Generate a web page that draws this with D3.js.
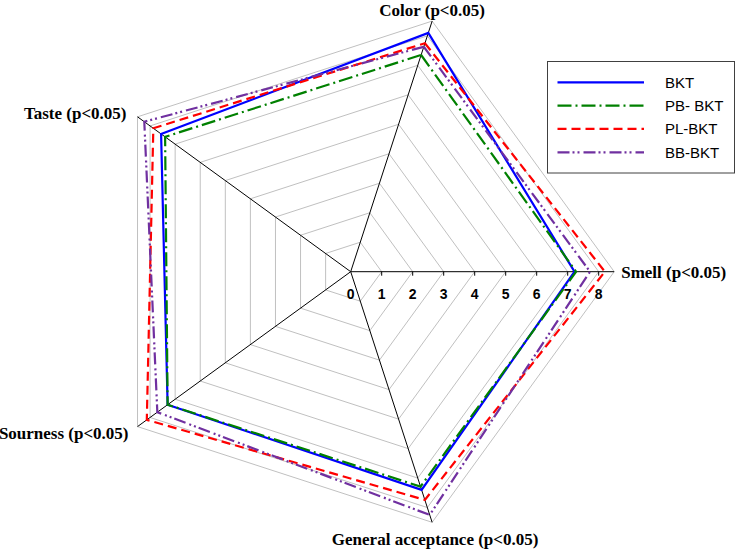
<!DOCTYPE html>
<html>
<head>
<meta charset="utf-8">
<script src="https://cdn.jsdelivr.net/npm/d3@7"></script>
<style>
  body { margin: 0; background: #fff; }
  svg { display: block; }
</style>
</head>
<body>
<div id="chart"></div>
<script>
// axes, clockwise starting at the upper-right one
const axes = ["Color (p<0.05)", "Smell (p<0.05)", "General acceptance (p<0.05)", "Sourness (p<0.05)", "Taste (p<0.05)"];
const seriesNames = ["BKT", "PB- BKT", "PL-BKT", "BB-BKT"];
const bkt = [8.1, 7.22, 7.4, 7.3, 7.56];
const pbBkt = [7.35, 7.27, 7.29, 7.3, 7.4];
const plBkt = [7.75, 8.2, 7.74, 8.13, 7.87];
const bbBkt = [7.63, 7.72, 8.25, 7.71, 8.23];
const ticks = [0, 1, 2, 3, 4, 5, 6, 7, 8];
const maxValue = 8.5;

const width = 737, height = 551;
const cx = 350.7, cy = 271.7;

const r = d3.scaleLinear().domain([0, maxValue]).range([0, 263.5]);
// five axes, 72 degrees apart, first at -72deg (screen coords)
const ang = (i) => (-72 + i * 72) * Math.PI / 180;
const pt = (i, v) => [cx + r(v) * Math.cos(ang(i)), cy + r(v) * Math.sin(ang(i))];

const svg = d3.select("#chart").append("svg")
  .attr("width", width)
  .attr("height", height);

// grid rings
const rings = ticks.slice(1).concat([maxValue]);
svg.append("g")
  .selectAll("path")
  .data(rings)
  .join("path")
  .attr("d", v => d3.line()(axes.map((a, i) => pt(i, v))) + "Z")
  .attr("fill", "none")
  .attr("stroke", "#c0c0c0")
  .attr("stroke-width", 1);

// spokes
svg.append("g")
  .selectAll("line")
  .data(axes)
  .join("line")
  .attr("x1", cx).attr("y1", cy)
  .attr("x2", (d, i) => pt(i, maxValue)[0])
  .attr("y2", (d, i) => pt(i, maxValue)[1])
  .attr("stroke", "#000")
  .attr("stroke-width", 1);

// tick marks + labels on the Smell axis
const tickG = svg.append("g");
tickG.selectAll("line")
  .data(ticks.slice(1))
  .join("line")
  .attr("x1", d => pt(1, d)[0]).attr("x2", d => pt(1, d)[0])
  .attr("y1", cy).attr("y2", cy + 4)
  .attr("stroke", "#000");
tickG.selectAll("text")
  .data(ticks)
  .join("text")
  .attr("x", d => pt(1, d)[0])
  .attr("y", cy + 27)
  .attr("text-anchor", "middle")
  .style("font-family", "'Liberation Sans', Arial, sans-serif")
  .style("font-weight", "bold")
  .style("font-size", "14px")
  .text(d => d);

// series
const series = [
  { name: seriesNames[0], values: bkt, color: "#0000ff", dash: null },
  { name: seriesNames[1], values: pbBkt, color: "#008000", dash: "14,4,2,4" },
  { name: seriesNames[2], values: plBkt, color: "#ff0000", dash: "9,5" },
  { name: seriesNames[3], values: bbBkt, color: "#7030a0", dash: "12,3,2,3,2,4" }
];

svg.append("g")
  .selectAll("path")
  .data(series)
  .join("path")
  .attr("d", s => d3.line()(s.values.map((v, i) => pt(i, v))) + "Z")
  .attr("fill", "none")
  .attr("stroke", s => s.color)
  .attr("stroke-width", 2.2)
  .attr("stroke-dasharray", s => s.dash);

// axis labels
const labelOffsets = [
  { dx: 0, dy: -5, anchor: "middle" },
  { dx: 7, dy: 6, anchor: "start" },
  { dx: 3, dy: 23, anchor: "middle" },
  { dx: -9, dy: 12, anchor: "end" },
  { dx: -11, dy: 2, anchor: "end" }
];
svg.append("g")
  .selectAll("text")
  .data(axes)
  .join("text")
  .attr("x", (d, i) => pt(i, maxValue)[0] + labelOffsets[i].dx)
  .attr("y", (d, i) => pt(i, maxValue)[1] + labelOffsets[i].dy)
  .attr("text-anchor", (d, i) => labelOffsets[i].anchor)
  .style("font-family", "'Liberation Serif', 'Times New Roman', serif")
  .style("font-weight", "bold")
  .style("font-size", "17px")
  .text(d => d);

// legend
const legend = svg.append("g");
legend.append("rect")
  .attr("x", 547.5).attr("y", 61.5)
  .attr("width", 187).attr("height", 111.5)
  .attr("fill", "#fff")
  .attr("stroke", "#404040")
  .attr("stroke-width", 1);

const rowY = d3.scalePoint().domain(seriesNames).range([82.3, 152.3]);
const item = legend.selectAll("g.item")
  .data(series)
  .join("g")
  .attr("class", "item");
item.append("line")
  .attr("x1", 557.5).attr("x2", 644)
  .attr("y1", s => rowY(s.name)).attr("y2", s => rowY(s.name))
  .attr("stroke", s => s.color)
  .attr("stroke-width", 2.2)
  .attr("stroke-dasharray", s => s.dash);
item.append("text")
  .attr("x", 665)
  .attr("y", s => rowY(s.name) + 5.5)
  .style("font-family", "'Liberation Sans', Arial, sans-serif")
  .style("font-size", "15px")
  .text(s => s.name);
</script>
</body>
</html>
